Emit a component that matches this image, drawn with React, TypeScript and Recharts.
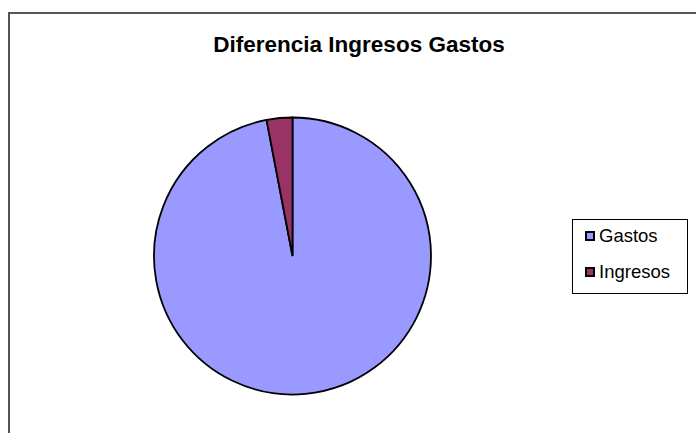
import React from "react";
import { PieChart, Pie, Cell, Legend } from "recharts";

const categories = ["Gastos", "Ingresos"];
const values = [97, 3];
const colors = ["#9999FF", "#993366"];

const pieData = categories.map((name, i) => ({ name, value: values[i] }));

const LegendBox = () => (
  <div
    style={{
      width: 114,
      height: 73,
      border: "1px solid #000",
      background: "#fff",
      fontFamily: "Arial, 'Liberation Sans', sans-serif",
      fontSize: 18.5,
      boxSizing: "content-box",
      position: "relative",
    }}
  >
    {categories.map((name, i) => (
      <div
        key={name}
        style={{
          position: "absolute",
          left: 12,
          top: 5 + i * 36,
          display: "flex",
          alignItems: "center",
          height: 22,
          whiteSpace: "nowrap",
        }}
      >
        <span
          style={{
            display: "inline-block",
            width: 10,
            height: 10,
            boxSizing: "border-box",
            background: colors[i],
            border: "2px solid #000",
            marginRight: 4,
          }}
        />
        <span style={{ color: "#000" }}>{name}</span>
      </div>
    ))}
  </div>
);

export default function App() {
  return (
    <div
      style={{
        position: "fixed",
        left: 0,
        top: 0,
        width: 696,
        height: 433,
        overflow: "hidden",
        background: "#fff",
      }}
    >
      <div
        style={{
          position: "absolute",
          left: 8,
          top: 12,
          width: 720,
          height: 460,
          borderTop: "2px solid #555",
          borderLeft: "2px solid #555",
        }}
      />
      <div
        style={{
          position: "absolute",
          left: 0,
          top: 32,
          width: 718,
          textAlign: "center",
          fontFamily: "Arial, 'Liberation Sans', sans-serif",
          fontWeight: "bold",
          fontSize: 22.5,
          color: "#000",
        }}
      >
        Diferencia Ingresos Gastos
      </div>
      <div style={{ position: "absolute", left: 0, top: 0 }}>
        <PieChart width={696} height={433} margin={{ top: 0, right: 0, bottom: 0, left: 0 }}>
          <Pie
            data={pieData}
            dataKey="value"
            nameKey="name"
            cx={292.5}
            cy={256}
            outerRadius={138.5}
            startAngle={90}
            endAngle={-270}
            stroke="#000"
            strokeWidth={1.8}
            isAnimationActive={false}
          >
            {pieData.map((d, i) => (
              <Cell key={d.name} fill={colors[i]} />
            ))}
          </Pie>
          <Legend
            content={<LegendBox />}
            wrapperStyle={{ position: "absolute", left: 572, top: 219, width: 116 }}
          />
        </PieChart>
      </div>
    </div>
  );
}
